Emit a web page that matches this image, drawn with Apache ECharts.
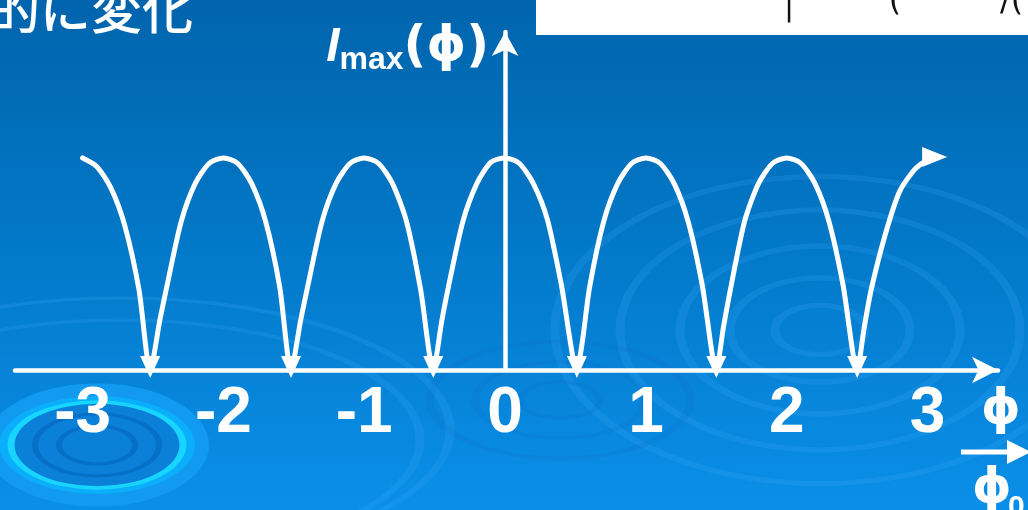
<!DOCTYPE html>
<html>
<head>
<meta charset="utf-8">
<script src="https://cdn.jsdelivr.net/npm/echarts@6/dist/echarts.min.js"></script>
<style>
html, body { margin: 0; padding: 0; background: #0a8ce6; }
#chart-container { width: 1028px; height: 510px; }
</style>
</head>
<body>
<div id="chart-container"></div>
<script>
// flux phi/phi0 and the read-off Imax(phi) curve (arbitrary units, peak = 1)
var phi = [
    -3.00, -2.90, -2.80, -2.70, -2.60, -2.52,
    -2.45, -2.40, -2.30, -2.20, -2.10, -2.00, -1.90, -1.80, -1.70, -1.60, -1.52,
    -1.45, -1.40, -1.30, -1.20, -1.10, -1.00, -0.90, -0.80, -0.70, -0.60, -0.51,
    -0.45, -0.40, -0.30, -0.20, -0.10, 0.00, 0.10, 0.20, 0.30, 0.40, 0.51,
    0.55, 0.60, 0.70, 0.80, 0.90, 1.00, 1.10, 1.20, 1.30, 1.40, 1.50,
    1.55, 1.60, 1.70, 1.80, 1.90, 2.00, 2.10, 2.20, 2.30, 2.40, 2.50,
    2.55, 2.60, 2.70, 2.80, 2.90, 2.96
];
var imax = [
    1.00, 0.96, 0.86, 0.68, 0.38, 0.00,
    0.24, 0.40, 0.70, 0.88, 0.975, 1.00, 0.975, 0.88, 0.70, 0.39, 0.00,
    0.24, 0.40, 0.70, 0.88, 0.975, 1.00, 0.975, 0.88, 0.70, 0.38, 0.00,
    0.23, 0.40, 0.70, 0.88, 0.98, 1.00, 0.975, 0.88, 0.71, 0.40, 0.00,
    0.14, 0.39, 0.70, 0.88, 0.975, 1.00, 0.975, 0.88, 0.70, 0.40, 0.00,
    0.20, 0.38, 0.70, 0.88, 0.975, 1.00, 0.975, 0.88, 0.70, 0.40, 0.00,
    0.20, 0.38, 0.64, 0.84, 0.94, 0.975
];
// where the arrows hit the axis
var zeroPhi = [-2.52, -1.52, -0.51, 0.51, 1.50, 2.50];
var endArrow = [3.05, 1.005];
var tickLabels = [-3, -2, -1, 0, 1, 2, 3];

var curve = [];
for (var i = 0; i < phi.length; i++) {
    curve.push([phi[i], imax[i]]);
}
var zeros = zeroPhi.map(function (v) { return [v, 0]; });

function ring(cx, cy, r, sy, style) {
    return { type: 'circle', z: -9, silent: true, x: cx, y: cy, scaleY: sy,
        shape: { cx: 0, cy: 0, r: r }, style: style };
}
var faint = { fill: null, stroke: 'rgba(70,175,255,0.17)', lineWidth: 9 };

var option = {
    animation: false,
    grid: { left: 15, right: 30, top: 32, bottom: 140, outerBoundsMode: 'none' },
    xAxis: {
        type: 'value',
        min: -3.48,
        max: 3.5,
        axisLine: {
            lineStyle: { color: '#fff', width: 4.5 },
            symbol: ['none', 'arrow'],
            symbolSize: [20, 26]
        },
        axisTick: { show: false },
        splitLine: { show: false },
        axisLabel: {
            customValues: tickLabels,
            margin: 12,
            color: '#fff',
            fontSize: 64,
            fontWeight: 'bold',
            fontFamily: 'Liberation Sans, Arial, sans-serif'
        }
    },
    yAxis: {
        type: 'value',
        min: 0,
        max: 1.594,
        axisLine: {
            onZero: true,
            lineStyle: { color: '#fff', width: 4.5 },
            symbol: ['none', 'arrow'],
            symbolSize: [20, 24]
        },
        axisTick: { show: false },
        splitLine: { show: false },
        axisLabel: { show: false },
        name: '{i|I}{m|max}{p|(ϕ)}',
        nameLocation: 'end',
        nameGap: -16,
        nameTextStyle: {
            align: 'right',
            verticalAlign: 'middle',
            padding: [0, 16, 0, 0],
            rich: {
                i: { fontSize: 48, fontStyle: 'italic', fontWeight: 'bold', color: '#fff',
                    lineHeight: 56, fontFamily: 'Liberation Sans, Arial, sans-serif' },
                m: { fontSize: 32, fontWeight: 'bold', color: '#fff', lineHeight: 24,
                    verticalAlign: 'bottom', fontFamily: 'Liberation Sans, Arial, sans-serif' },
                p: { fontSize: 50, fontWeight: 'bold', color: '#fff', lineHeight: 56,
                    fontFamily: 'DejaVu Sans, sans-serif' }
            }
        }
    },
    graphic: [
        { type: 'rect', z: -10, silent: true, shape: { x: 0, y: 0, width: 1028, height: 510 },
            style: { fill: { type: 'linear', x: 0, y: 0, x2: 0, y2: 1, colorStops: [
                { offset: 0, color: '#0064ad' },
                { offset: 0.45, color: '#0277c6' },
                { offset: 1, color: '#0a8fe8' }
            ] } } },
        // ripples
        ring(820, 330, 265, 0.58, faint),
        ring(820, 330, 200, 0.6, faint),
        ring(820, 330, 140, 0.6, faint),
        ring(820, 330, 90, 0.58, faint),
        ring(820, 330, 45, 0.55, faint),
        ring(560, 400, 130, 0.45, { fill: null, stroke: 'rgba(20,110,200,0.22)', lineWidth: 8 }),
        ring(560, 400, 85, 0.45, { fill: null, stroke: 'rgba(20,110,200,0.22)', lineWidth: 8 }),
        ring(560, 400, 40, 0.45, { fill: null, stroke: 'rgba(20,110,200,0.22)', lineWidth: 7 }),
        ring(120, 430, 330, 0.4, faint),
        ring(120, 440, 300, 0.4, faint),
        ring(97, 445, 112, 0.55, { fill: '#1299f0', stroke: null }),
        ring(97, 445, 98, 0.5, { fill: '#0aaefa', stroke: null }),
        ring(97, 445, 86, 0.5, { fill: '#0a80d8', stroke: '#17d5ff', lineWidth: 7 }),
        ring(97, 445, 62, 0.5, { fill: null, stroke: 'rgba(0,95,180,0.5)', lineWidth: 6 }),
        ring(97, 445, 38, 0.5, { fill: null, stroke: 'rgba(0,95,180,0.5)', lineWidth: 6 }),
        // slide text around the chart
        { type: 'text', z: 5, x: 193, y: 10, style: { text: '的に変化', fill: '#fff',
            font: '500 51px "Noto Sans CJK JP"', align: 'right', verticalAlign: 'middle' } },
        { type: 'rect', z: 5, shape: { x: 536, y: -2, width: 500, height: 37 },
            style: { fill: '#fff' } },
        { type: 'text', z: 6, x: 789, y: -8, style: { text: '|', fill: '#111',
            font: '30px "DejaVu Sans"', align: 'center', verticalAlign: 'top' } },
        { type: 'text', z: 6, x: 895, y: -14, style: { text: '(', fill: '#111',
            font: '32px "DejaVu Sans"', align: 'center', verticalAlign: 'top' } },
        { type: 'text', z: 6, x: 1000, y: -14, style: { text: '/(', fill: '#111',
            font: '32px "DejaVu Sans"', align: 'left', verticalAlign: 'top' } },
        // phi / phi0 axis name
        { type: 'text', z: 6, x: 1001, y: 411, style: { text: 'ϕ', fill: '#fff',
            font: 'bold 50px "DejaVu Sans"', align: 'center', verticalAlign: 'middle' } },
        { type: 'line', z: 6, shape: { x1: 961, y1: 452, x2: 1012, y2: 452 },
            style: { stroke: '#fff', lineWidth: 5 } },
        { type: 'polygon', z: 6, shape: { points: [[1007, 440], [1031, 452], [1007, 464]] },
            style: { fill: '#fff' } },
        { type: 'text', z: 6, x: 992, y: 490, style: { text: 'ϕ', fill: '#fff',
            font: 'bold 50px "DejaVu Sans"', align: 'center', verticalAlign: 'middle' } },
        { type: 'text', z: 6, x: 1008, y: 493, style: { text: '0', fill: '#fff',
            font: 'bold 30px "Liberation Sans"', align: 'left', verticalAlign: 'top' } }
    ],
    series: [
        {
            type: 'line',
            data: curve,
            smooth: 0.25,
            symbol: 'none',
            z: 3,
            lineStyle: { color: '#fff', width: 5, cap: 'round', join: 'round' }
        },
        {
            type: 'scatter',
            data: zeros,
            symbol: 'triangle',
            symbolRotate: 180,
            symbolSize: [20, 22],
            symbolOffset: [0, -3],
            z: 4,
            itemStyle: { color: '#fff', opacity: 1 }
        },
        {
            type: 'scatter',
            data: [endArrow],
            symbol: 'triangle',
            symbolRotate: -90,
            symbolSize: [20, 25],
            z: 4,
            itemStyle: { color: '#fff', opacity: 1 }
        }
    ]
};

var myChart = echarts.init(document.getElementById('chart-container'));
myChart.setOption(option);
</script>
</body>
</html>
